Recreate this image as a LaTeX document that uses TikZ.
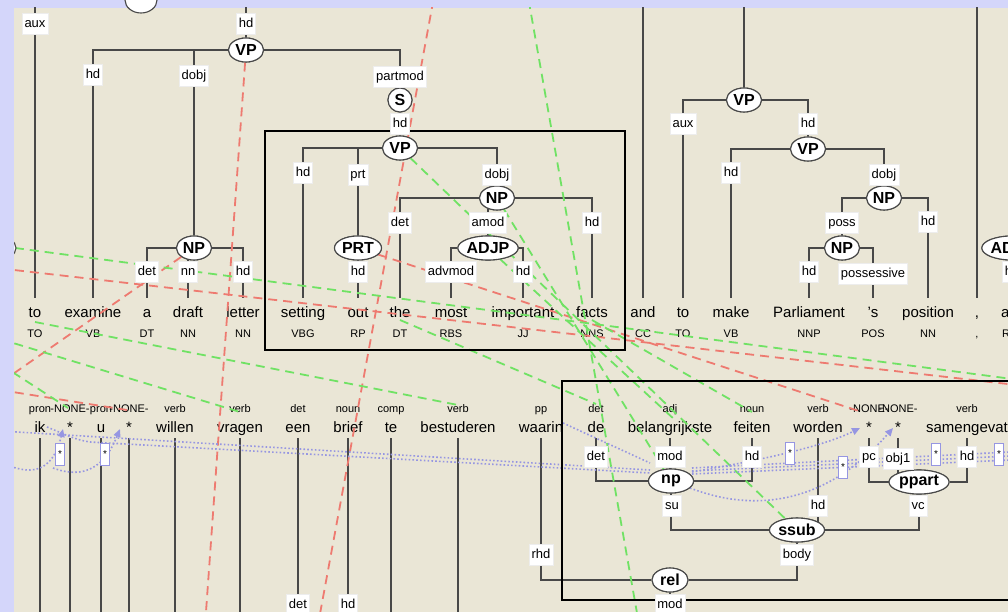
\documentclass[tikz,border=0pt]{standalone}
\usepackage{fontspec}
\setmainfont{Liberation Sans}
\usetikzlibrary{shapes.geometric,arrows.meta}
\definecolor{bgblue}{RGB}{212,214,250}
\definecolor{panel}{RGB}{234,230,214}
\definecolor{edge}{RGB}{72,72,72}
\definecolor{algreen}{RGB}{112,226,100}
\definecolor{alred}{RGB}{238,122,112}
\definecolor{secblue}{RGB}{150,150,226}
\begin{document}
\begin{tikzpicture}[x=1pt,y=-1pt,
  tree/.style={draw=edge,line width=1.8pt},
  cat/.style={ellipse,draw=edge,line width=1.1pt,fill=white,font=\bfseries\fontsize{16}{16}\selectfont,inner xsep=0pt,inner ysep=0pt,minimum height=24pt},
  lab/.style={fill=white,draw=black!7,line width=0.6pt,font=\fontsize{13}{13}\selectfont,inner xsep=2.5pt,inner ysep=4.5pt,text height=9.5pt,text depth=2.5pt},
  ew/.style={font=\fontsize{15}{15}\selectfont,inner xsep=0pt,inner ysep=8pt,text height=11pt,text depth=3pt,anchor=base},
  dw/.style={font=\fontsize{15}{15}\selectfont,inner xsep=0pt,inner ysep=3pt,text height=11pt,text depth=3pt,anchor=base},
  tag/.style={font=\fontsize{11}{11}\selectfont,inner sep=0pt,anchor=base},
  agr/.style={draw=algreen,line width=1.8pt,dash pattern=on 9pt off 6pt},
  ard/.style={draw=alred,line width=1.8pt,dash pattern=on 9pt off 6pt},
  sec/.style={draw=secblue,line width=1.6pt,dash pattern=on 1.6pt off 2.2pt},
  secarr/.style={sec,-{Triangle[length=8pt,width=7pt]}},
  secbox/.style={fill=white,draw=secblue,line width=0.8pt,font=\fontsize{10}{10}\selectfont,minimum width=9pt,minimum height=22pt,inner sep=0pt},
  selbox/.style={draw=black,line width=1.5pt}
]
\useasboundingbox (0,0) rectangle (1008,612);
\fill[bgblue] (0,0) rectangle (1008,612);
\fill[panel] (14,8) rectangle (1008,612);

\begin{scope}
\clip (14,8) rectangle (1008,612);

% ---------- English words ----------
\node[ew] (e1) at (35,317) {to};
\node[ew] (e2) at (93,317) {examine};
\node[ew] (e3) at (147,317) {a};
\node[ew] (e4) at (188,317) {draft};
\node[ew] (e5) at (243,317) {letter};
\node[ew] (e6) at (303,317) {setting};
\node[ew] (e7) at (358,317) {out};
\node[ew] (e8) at (400,317) {the};
\node[ew] (e9) at (451,317) {most};
\node[ew] (e10) at (523,317) {important};
\node[ew] (e11) at (592,317) {facts};
\node[ew] (e12) at (643,317) {and};
\node[ew] (e13) at (683,317) {to};
\node[ew] (e14) at (731,317) {make};
\node[ew] (e15) at (809,317) {Parliament};
\node[ew] (e16) at (873,317) {'s};
\node[ew] (e17) at (928,317) {position};
\node[ew] (e18) at (977,317) {,};
\node[ew,anchor=base west] (e19) at (1001,317) {as};
\node[tag] (t1) at (35,337) {TO};
\node[tag] (t2) at (93,337) {VB};
\node[tag] (t3) at (147,337) {DT};
\node[tag] (t4) at (188,337) {NN};
\node[tag] (t5) at (243,337) {NN};
\node[tag] (t6) at (303,337) {VBG};
\node[tag] (t7) at (358,337) {RP};
\node[tag] (t8) at (400,337) {DT};
\node[tag] (t9) at (451,337) {RBS};
\node[tag] (t10) at (523,337) {JJ};
\node[tag] (t11) at (592,337) {NNS};
\node[tag] (t12) at (643,337) {CC};
\node[tag] (t13) at (683,337) {TO};
\node[tag] (t14) at (731,337) {VB};
\node[tag] (t15) at (809,337) {NNP};
\node[tag] (t16) at (873,337) {POS};
\node[tag] (t17) at (928,337) {NN};
\node[tag] (t18) at (977,337) {,};
\node[tag,anchor=base west] (t19) at (1002,337) {RB};

% ---------- Dutch words ----------
\node[dw] (d1) at (40,432) {ik};
\node[dw] (d2) at (70,432) {*};
\node[dw] (d3) at (101,432) {u};
\node[dw] (d4) at (129,432) {*};
\node[dw] (d5) at (175,432) {willen};
\node[dw] (d6) at (240,432) {vragen};
\node[dw] (d7) at (298,432) {een};
\node[dw] (d8) at (348,432) {brief};
\node[dw] (d9) at (391,432) {te};
\node[dw] (d10) at (458,432) {bestuderen};
\node[dw] (d11) at (541,432) {waarin};
\node[dw] (d12) at (596,432) {de};
\node[dw] (d13) at (670,432) {belangrijkste};
\node[dw] (d14) at (752,432) {feiten};
\node[dw] (d15) at (818,432) {worden};
\node[dw] (d16) at (869,432) {*};
\node[dw] (d17) at (898,432) {*};
\node[dw] (d18) at (967,432) {samengevat};
\node[tag] (s1) at (40,412) {pron};
\node[tag] (s2) at (70,412) {-NONE-};
\node[tag] (s3) at (101,412) {pron};
\node[tag] (s4) at (129,412) {-NONE-};
\node[tag] (s5) at (175,412) {verb};
\node[tag] (s6) at (240,412) {verb};
\node[tag] (s7) at (298,412) {det};
\node[tag] (s8) at (348,412) {noun};
\node[tag] (s9) at (391,412) {comp};
\node[tag] (s10) at (458,412) {verb};
\node[tag] (s11) at (541,412) {pp};
\node[tag] (s12) at (596,412) {det};
\node[tag] (s13) at (670,412) {adj};
\node[tag] (s14) at (752,412) {noun};
\node[tag] (s15) at (818,412) {verb};
\node[tag] (s16) at (869,412) {-NONE-};
\node[tag] (s17) at (898,412) {-NONE-};
\node[tag] (s18) at (967,412) {verb};

% ---------- phrase node positions ----------
\coordinate (cVPa) at (246,50);
\coordinate (cS) at (400,100);
\coordinate (cVPb) at (400,148);
\coordinate (cPRT) at (358,248);
\coordinate (cNPb) at (497,198);
\coordinate (cADJP) at (488,248);
\coordinate (cNPa) at (194,248);
\coordinate (cVPc) at (744,100);
\coordinate (cVPd) at (808,149);
\coordinate (cNPc) at (884,198);
\coordinate (cNPd) at (842,248);
\coordinate (cADJPb) at (1012,248);
\coordinate (cnp) at (671,481);
\coordinate (cssub) at (797,530);
\coordinate (cppart) at (919,482);
\coordinate (crel) at (670,580);

\path
 node[cat,minimum width=35pt] (VPa) at (cVPa) {VP}
 node[cat,minimum width=24pt] (S) at (cS) {S}
 node[cat,minimum width=35pt] (VPb) at (cVPb) {VP}
 node[cat,minimum width=47pt] (PRT) at (cPRT) {PRT}
 node[cat,minimum width=35pt] (NPb) at (cNPb) {NP}
 node[cat,minimum width=60pt] (ADJP) at (cADJP) {ADJP}
 node[cat,minimum width=35pt] (NPa) at (cNPa) {NP}
 node[cat,minimum width=35pt] (VPc) at (cVPc) {VP}
 node[cat,minimum width=35pt] (VPd) at (cVPd) {VP}
 node[cat,minimum width=35pt] (NPc) at (cNPc) {NP}
 node[cat,minimum width=35pt] (NPd) at (cNPd) {NP}
 node[cat,minimum width=60pt] (ADJPb) at (cADJPb) {ADJP}
 node[cat,minimum width=45pt] (np) at (cnp) {np}
 node[cat,minimum width=55pt] (ssub) at (cssub) {ssub}
 node[cat,minimum width=60pt] (ppart) at (cppart) {ppart}
 node[cat,minimum width=36pt] (rel) at (crel) {rel};

% free ends
\coordinate (topA) at (35,0);
\coordinate (topB) at (246,0);
\coordinate (topC) at (643,0);
\coordinate (topD) at (744,0);
\coordinate (topE) at (977,0);
\coordinate (bot) at (0,630);

% ---------- tree edges ----------
\draw[tree] (topA) -- (e1);
\draw[tree] (topB) -- (VPa);
\draw[tree] (VPa) -| (e2);
\draw[tree] (VPa) -| (NPa);
\draw[tree] (VPa) -| (S);
\draw[tree] (S) -- (VPb);
\draw[tree] (VPb) -| (e6);
\draw[tree] (VPb) -| (PRT);
\draw[tree] (VPb) -| (NPb);
\draw[tree] (PRT) -- (e7);
\draw[tree] (NPb) -| (e8);
\draw[tree] (NPb) -| (ADJP);
\draw[tree] (NPb) -| (e11);
\draw[tree] (ADJP) -| (e9);
\draw[tree] (ADJP) -| (e10);
\draw[tree] (NPa) -| (e3);
\draw[tree] (NPa) -| (e4);
\draw[tree] (NPa) -| (e5);
\draw[tree] (topC) -- (e12);
\draw[tree] (topD) -- (VPc);
\draw[tree] (VPc) -| (e13);
\draw[tree] (VPc) -| (VPd);
\draw[tree] (VPd) -| (e14);
\draw[tree] (VPd) -| (NPc);
\draw[tree] (NPc) -| (NPd);
\draw[tree] (NPc) -| (e17);
\draw[tree] (NPd) -| (e15);
\draw[tree] (NPd) -| (e16);
\draw[tree] (topE) -- (e18);
\draw[tree] (ADJPb) -- (ADJPb |- e19.north);

\foreach \w in {d1,d2,d3,d4,d5,d6,d7,d8,d9,d10}{\draw[tree] (\w) -- (\w |- bot);}
\draw[tree] (rel) -| (d11);
\draw[tree] (rel) -| (ssub);
\draw[tree] (rel) -- (rel |- bot);
\draw[tree] (ssub) -| (np);
\draw[tree] (ssub) -| (d15);
\draw[tree] (ssub) -| (ppart);
\draw[tree] (np) -| (d12);
\draw[tree] (np) -| (d13);
\draw[tree] (np) -| (d14);
\draw[tree] (ppart) -| (d16);
\draw[tree] (ppart) -| (d17);
\draw[tree] (ppart) -| (d18);

% ---------- alignment lines ----------
\coordinate (a1) at (204.7,630);
\coordinate (a2a) at (433.4,0);  \coordinate (a2b) at (317,630);
\coordinate (a3) at (0,383);
\coordinate (a4a) at (0,268.4);  \coordinate (a4b) at (1020,385.4);
\coordinate (a5) at (862,412);
\coordinate (a6a) at (0,390);    \coordinate (a6b) at (127,410);
\draw[ard] (VPa) -- (a1);
\draw[ard] (a2a) -- (a2b);
\draw[ard] (NPa) -- (a3);
\draw[ard] (a4a) -- (a4b);
\draw[ard] (PRT) -- (a5);
\draw[ard] (a6a) -- (a6b);

\coordinate (g1a) at (0,246);   \coordinate (g1b) at (1020,380);
\coordinate (g2a) at (35,322);  \coordinate (g2b) at (458,405);
\coordinate (g3a) at (0,364);   \coordinate (g3b) at (68,408);
\coordinate (g4a) at (0,339);   \coordinate (g4b) at (240,412);
\coordinate (g5a) at (528.6,0); \coordinate (g5b) at (640,630);
\coordinate (g6a) at (400,320); \coordinate (g6b) at (596,404);
\coordinate (g9a) at (592,320); \coordinate (g9b) at (752,412);
\coordinate (g10b) at (675,420);
\draw[agr] (g1a) -- (g1b);
\draw[agr] (g2a) -- (g2b);
\draw[agr] (g3a) -- (g3b);
\draw[agr] (g4a) -- (g4b);
\draw[agr] (g5a) -- (g5b);
\draw[agr] (g6a) -- (g6b);
\draw[agr] (VPb) -- (ssub);
\draw[agr] (NPb) -- (np);
\draw[agr] (g9a) -- (g9b);
\draw[agr] (ADJP) -- (g10b);

% ---------- secondary edges ----------
\coordinate (p1a) at (0,431);   \coordinate (p1b) at (650,470);
\coordinate (p2a) at (47,427);  \coordinate (p2m) at (90,442); \coordinate (p2b) at (650,473);
\coordinate (p3a) at (0,462);   \coordinate (p3b) at (63,429);
\coordinate (p4a) at (53,468);  \coordinate (p4b) at (120,429);
\coordinate (p5a) at (563,423); \coordinate (p5b) at (650,463);
\coordinate (q1b) at (860,428);
\coordinate (q2b) at (893,428);
\coordinate (q3b) at (1010,452); \coordinate (q4b) at (1010,456); \coordinate (q5b) at (1010,460);
\draw[sec] (p1a) -- (p1b);
\draw[sec] (p2a) .. controls (62,433) and (75,440) .. (p2m) -- (p2b);
\draw[secarr] (p3a) .. controls (30,476) and (52,474) .. (p3b);
\draw[secarr] (p4a) .. controls (85,480) and (105,466) .. (p4b);
\draw[sec] (p5a) -- (p5b);
\draw[secarr] (692,472) .. controls (750,462) and (820,448) .. (q1b);
\draw[secarr] (690,488) .. controls (760,515) and (830,500) .. (q2b);
\draw[sec] (692,468) -- (q3b);
\draw[sec] (692,471) -- (q4b);
\draw[sec] (692,474) -- (q5b);

% ---------- frames ----------
\draw[selbox] (265,131) rectangle (625,350);
\draw[selbox] (562,381) rectangle (1012,600);

% ---------- phrase nodes on top ----------
\path
 node[cat,minimum width=35pt] at (cVPa) {VP}
 node[cat,minimum width=24pt] at (cS) {S}
 node[cat,minimum width=35pt] at (cVPb) {VP}
 node[cat,minimum width=47pt] at (cPRT) {PRT}
 node[cat,minimum width=35pt] at (cNPb) {NP}
 node[cat,minimum width=60pt] at (cADJP) {ADJP}
 node[cat,minimum width=35pt] at (cNPa) {NP}
 node[cat,minimum width=35pt] at (cVPc) {VP}
 node[cat,minimum width=35pt] at (cVPd) {VP}
 node[cat,minimum width=35pt] at (cNPc) {NP}
 node[cat,minimum width=35pt] at (cNPd) {NP}
 node[cat,minimum width=60pt] at (cADJPb) {ADJP}
 node[cat,minimum width=45pt] at (cnp) {np}
 node[cat,minimum width=55pt] at (cssub) {ssub}
 node[cat,minimum width=60pt] at (cppart) {ppart}
 node[cat,minimum width=36pt] at (crel) {rel};
\node[cat,minimum width=36pt] (leftnode) at (-2,248) {};

% ---------- edge labels ----------
\node[lab] (l1) at (35,24) {aux};
\node[lab] (l2) at (246,24) {hd};
\node[lab] (l3) at (93,75) {hd};
\node[lab] (l4) at (194,76) {dobj};
\node[lab] (l5) at (400,77) {partmod};
\node[lab] (l6) at (400,124) {hd};
\node[lab] (l7) at (303,173) {hd};
\node[lab] (l8) at (358,175) {prt};
\node[lab] (l9) at (497,175) {dobj};
\node[lab] (l10) at (358,272) {hd};
\node[lab] (l11) at (400,223) {det};
\node[lab] (l12) at (488,223) {amod};
\node[lab] (l13) at (592,223) {hd};
\node[lab] (l14) at (451,272) {advmod};
\node[lab] (l15) at (523,272) {hd};
\node[lab] (l16) at (147,272) {det};
\node[lab] (l17) at (188,272) {nn};
\node[lab] (l18) at (243,272) {hd};
\node[lab] (l19) at (683,124) {aux};
\node[lab] (l20) at (808,124) {hd};
\node[lab] (l21) at (731,173) {hd};
\node[lab] (l22) at (884,175) {dobj};
\node[lab] (l23) at (842,223) {poss};
\node[lab] (l24) at (928,222) {hd};
\node[lab] (l25) at (809,272) {hd};
\node[lab] (l26) at (873,274) {possessive};
\node[lab] (l27) at (1012,272) {hd};

\node[lab] (m1) at (298,605) {det};
\node[lab] (m2) at (348,605) {hd};
\node[lab] (m3) at (541,555) {rhd};
\node[lab] (m4) at (596,457) {det};
\node[lab] (m5) at (670,457) {mod};
\node[lab] (m6) at (752,457) {hd};
\node[lab] (m7) at (672,506) {su};
\node[lab] (m8) at (818,506) {hd};
\node[lab] (m9) at (918,506) {vc};
\node[lab] (m10) at (869,457) {pc};
\node[lab] (m11) at (898,459) {obj1};
\node[lab] (m12) at (967,457) {hd};
\node[lab] (m13) at (797,555) {body};
\node[lab] (m14) at (670,605) {mod};

\node[secbox] (x1) at (60,454) {*};
\node[secbox] (x2) at (105,454) {*};
\node[secbox] (x3) at (790,453) {*};
\node[secbox] (x4) at (843,467) {*};
\node[secbox] (x5) at (936,454) {*};
\node[secbox] (x6) at (999,454) {*};
\end{scope}

% partly hidden node at the top edge
\node[cat,minimum width=32pt,minimum height=26pt] (topnode) at (141,0) {};
\end{tikzpicture}
\end{document}
